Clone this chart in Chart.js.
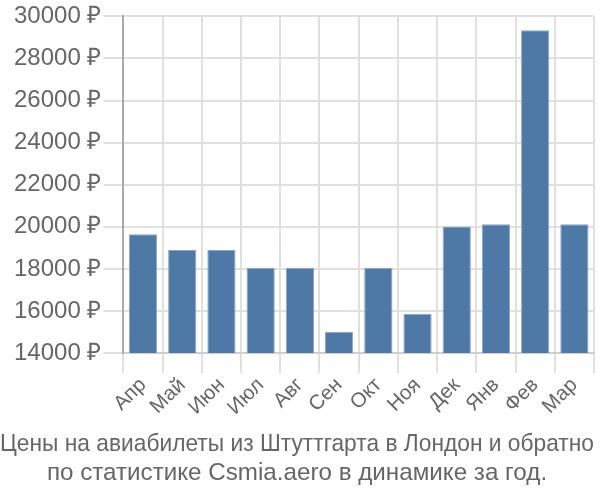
<!DOCTYPE html>
<html>
<head>
<meta charset="utf-8">
<script src="https://cdn.jsdelivr.net/npm/chart.js@4/dist/chart.umd.min.js"></script>
<style>
  body { margin: 0; background: #fff; }
</style>
</head>
<body>
<canvas id="priceChart" width="600" height="500"></canvas>
<script>
// Data
const months = ['Апр', 'Май', 'Июн', 'Июл', 'Авг', 'Сен', 'Окт', 'Ноя', 'Дек', 'Янв', 'Фев', 'Мар'];
const prices = [19650, 18900, 18900, 18050, 18050, 15020, 18050, 15870, 20020, 20120, 29340, 20120];
const titleLines = [
  'Цены на авиабилеты из Штуттгарта в Лондон и обратно',
  'по статистике Csmia.aero в динамике за год.'
];

const ctx = document.getElementById('priceChart').getContext('2d');

Chart.defaults.font.family = '"Liberation Sans", Arial, sans-serif';
Chart.defaults.color = '#666';

const priceChart = new Chart(ctx, {
  type: 'bar',
  data: {
    labels: months,
    datasets: [{
      data: prices,
      backgroundColor: '#4e79a7',
      borderColor: '#8aa6c8',
      borderWidth: 1
    }]
  },
  options: {
    responsive: false,
    animation: false,
    // no left padding so the title can use the full width
    layout: { padding: { left: 0, right: 6, top: 4, bottom: 12 } },
    plugins: {
      legend: { display: false },
      tooltip: { enabled: false },
      title: {
        display: true,
        position: 'bottom',
        text: titleLines,
        color: '#666',
        font: { size: 24.2, weight: 'normal' },
        padding: { top: 10, bottom: 0 },
        lineHeight: 1.16
      }
    },
    scales: {
      x: {
        grid: { color: '#e0e0e0', lineWidth: 2, tickLength: 20 },
        border: { color: '#cfcfcf', width: 2 },
        ticks: {
          font: { size: 20.5 },
          autoSkip: false,
          maxRotation: 45,
          minRotation: 45,
          color: '#666',
          padding: 0
        }
      },
      y: {
        min: 14000,
        max: 30000,
        afterFit: scale => { scale.width += 12; },
        grid: { color: '#e0e0e0', lineWidth: 2, tickLength: 20 },
        border: { color: '#aaa', width: 2 },
        ticks: {
          stepSize: 2000,
          font: { size: 24 },
          color: '#666',
          padding: 2,
          callback: v => v + ' ₽'
        }
      }
    }
  }
});
</script>
</body>
</html>
